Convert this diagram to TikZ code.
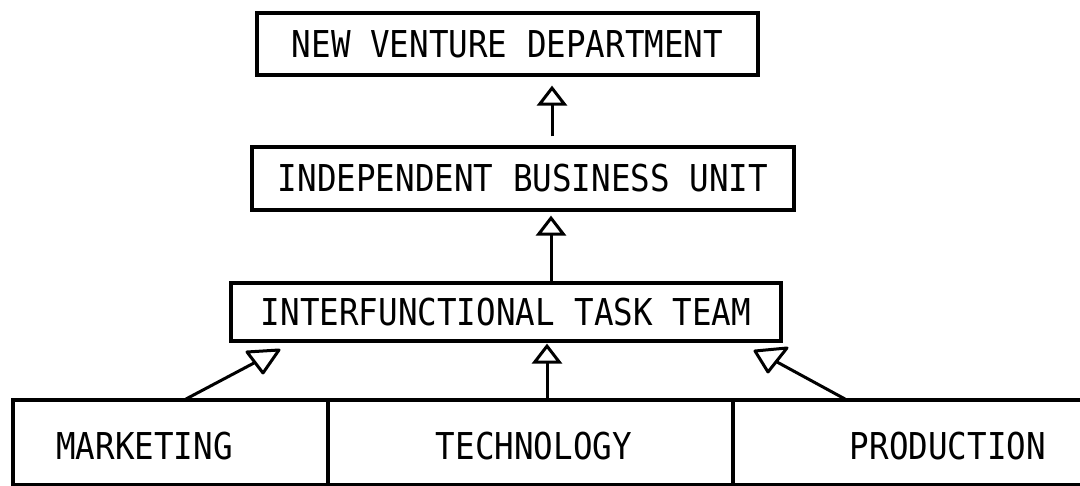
\documentclass[tikz,border=0pt]{standalone}
\usepackage{fontspec}
\usetikzlibrary{arrows.meta}
\newfontfamily\orgfont[FakeStretch=0.88]{DejaVu Sans Mono}

\tikzset{
  unitbox/.style={draw=black, line width=3.2pt, inner sep=0pt, fill=white,
    font=\orgfont\fontsize{37}{40}\selectfont},
  labeltext/.style={inner sep=0pt, font=\orgfont\fontsize{37}{40}\selectfont},
  uparrow/.style={line width=3pt,
    -{Triangle[open, length=20pt, width=30pt, line width=3pt]}},
  feed/.style={line width=3pt, line cap=round},
  openhead/.style={line width=3pt, line join=round, fill=white}
}

\begin{document}
\begin{tikzpicture}[x=1pt, y=-1pt]
\useasboundingbox (0,0) rectangle (1080,486);
\begin{scope}
\clip (0,0) rectangle (1080,486);

% hierarchy of units
\node[unitbox, minimum width=501pt, minimum height=62pt] (nvd) at (507.5,44)
  {NEW VENTURE DEPARTMENT};
\node[unitbox, minimum width=542pt, minimum height=63pt] (ibu) at (523,178.5)
  {INDEPENDENT BUSINESS UNIT};
\node[unitbox, minimum width=550pt, minimum height=58pt] (itt) at (506,312)
  {INTERFUNCTIONAL TASK TEAM};

% functional departments along the bottom
\node[unitbox, minimum width=315pt, minimum height=85pt] (mkt) at (170.5,442.5) {};
\node[unitbox, minimum width=405pt, minimum height=85pt] (tech) at (530.5,442.5) {};
\node[unitbox, minimum width=360pt, minimum height=85pt] (prod) at (913,442.5) {};
\node[labeltext] (mkttext) at (144.5,446) {MARKETING};
\node[labeltext] (techtext) at (534,446) {TECHNOLOGY};
\node[labeltext] (prodtext) at (948,446) {PRODUCTION};

% vertical links
\draw[uparrow, shorten >=9pt, shorten <=9pt] (ibu.north -| 552,0) -- (nvd.south -| 552,0);
\draw[uparrow, shorten >=4pt] (itt.north -| 551,0) -- (ibu.south -| 551,0);
\draw[uparrow, shorten >=1pt] (tech.north -| 547,0) -- (itt.south -| 547,0);

% slanted feeds from marketing and production
\coordinate (mktfoot) at (186,399);
\coordinate (mkthead) at (254,363);
\coordinate (prodfoot) at (845,399);
\coordinate (prodhead) at (777,362);
\draw[feed] (mktfoot) -- (mkthead);
\draw[openhead] (247,352) -- (279,350) -- (263,373) -- cycle;
\draw[feed] (prodfoot) -- (prodhead);
\draw[openhead] (755,351) -- (787,348) -- (768,372) -- cycle;
\end{scope}
\end{tikzpicture}
\end{document}
